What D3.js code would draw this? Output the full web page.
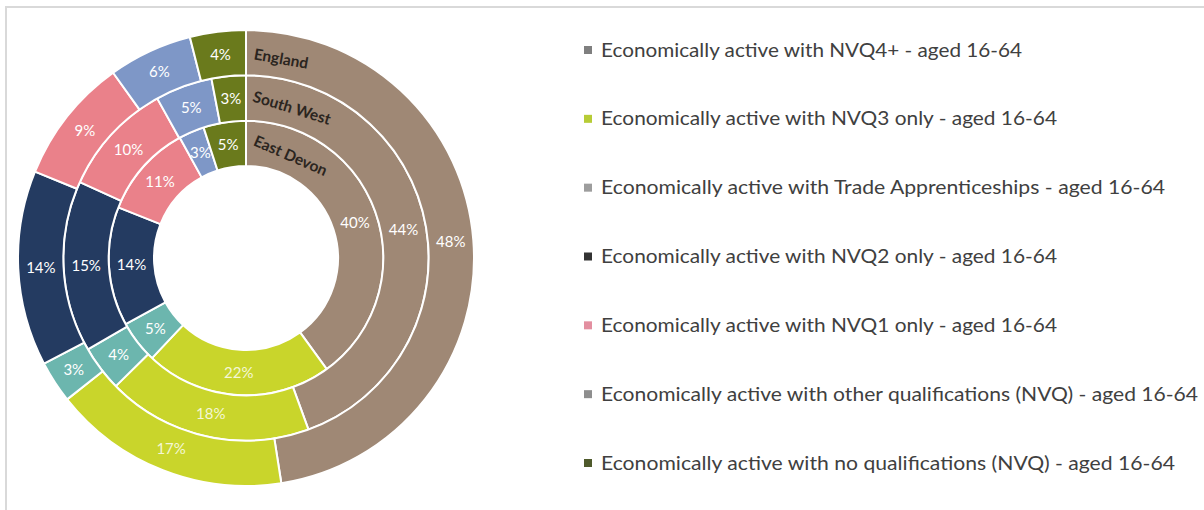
<!DOCTYPE html>
<html>
<head>
<meta charset="utf-8">
<script src="https://cdn.jsdelivr.net/npm/d3@7"></script>
<style>
  html, body { margin: 0; padding: 0; background: #fff; }
  svg { display: block; }
</style>
</head>
<body>
<svg id="chart" width="1204" height="510"></svg>
<script>
// Qualification categories (economically active, aged 16-64)
const categories = [
  "Economically active with NVQ4+ - aged 16-64",
  "Economically active with NVQ3 only - aged 16-64",
  "Economically active with Trade Apprenticeships - aged 16-64",
  "Economically active with NVQ2 only - aged 16-64",
  "Economically active with NVQ1 only - aged 16-64",
  "Economically active with other qualifications (NVQ) - aged 16-64",
  "Economically active with no qualifications (NVQ) - aged 16-64"
];

// Areas, innermost ring first
const areas = ["East Devon", "South West", "England"];

// Percentage share per category, one array per area
const eastDevon = [40, 22, 5, 14, 11, 3, 5];
const southWest = [44, 18, 4, 15, 10, 5, 3];
const england   = [48, 17, 3, 14, 9, 6, 4];

const seriesValues = [eastDevon, southWest, england];

// Ring segment colours
const sliceColors = ["#9f8875", "#c9d52b", "#6cb6ae", "#243b61", "#ea818a", "#7e97c7", "#6a7a1c"];
// Legend marker colours
const legendColors = ["#7f7f7f", "#b7cc36", "#9d9d9d", "#333333", "#e38fa0", "#8e8e8e", "#4f5a2c"];

const svg = d3.select("#chart");

// Chart area frame
svg.append("rect")
  .attr("x", 6).attr("y", 7)
  .attr("width", 1300).attr("height", 600)
  .attr("fill", "#fff")
  .attr("stroke", "#d9d9d9")
  .attr("stroke-width", 2);

const cx = 246, cy = 258;
const rInner = 92, rOuter = 228;
const ringScale = d3.scaleLinear().domain([0, areas.length]).range([rInner, rOuter]);

const pie = d3.pie().sort(null).value(d => d);

const g = svg.append("g").attr("transform", `translate(${cx},${cy})`);

seriesValues.forEach((vals, ringIdx) => {
  const r0 = ringScale(ringIdx), r1 = ringScale(ringIdx + 1);
  const arc = d3.arc().innerRadius(r0).outerRadius(r1);
  const arcs = pie(vals);
  const ring = g.append("g").attr("class", "ring");

  ring.selectAll("path")
    .data(arcs)
    .join("path")
    .attr("d", arc)
    .attr("fill", (d, i) => sliceColors[i])
    .attr("stroke", "#fff")
    .attr("stroke-width", 2)
    .attr("stroke-linejoin", "round");

  ring.selectAll("text.val")
    .data(arcs)
    .join("text")
    .attr("class", "val")
    .attr("transform", d => `translate(${arc.centroid(d)})`)
    .attr("text-anchor", "middle")
    .attr("dy", "0.35em")
    .attr("font-family", "Lato, 'Open Sans', sans-serif")
    .attr("font-size", 15)
    .attr("fill", (d, i) => i === 1 ? "#f4f7d6" : "#ffffff")
    .text(d => d.data + "%");

  // Area name inside the first segment, near the top
  const rm = (r0 + r1) / 2 - 3;
  const angDeg = [23.5, 17, 10][ringIdx];
  const a = angDeg * Math.PI / 180;
  ring.append("text")
    .attr("transform", `translate(${rm * Math.sin(a)},${-rm * Math.cos(a)}) rotate(${angDeg})`)
    .attr("text-anchor", "middle")
    .attr("dy", "0.35em")
    .attr("font-family", "Lato, 'Open Sans', sans-serif")
    .attr("font-weight", "bold")
    .attr("font-size", 15.5)
    .attr("fill", "#2b2520")
    .text(areas[ringIdx]);
});

// Legend
const legendY = d3.scalePoint().domain(categories).range([50, 463]);
const legendWidths = [421, 456, 564, 456, 456, 597, 574];
const legend = svg.append("g");
categories.forEach((c, i) => {
  const y = legendY(c);
  legend.append("rect")
    .attr("x", 584).attr("y", y - 4)
    .attr("width", 8).attr("height", 8)
    .attr("fill", legendColors[i]);
  legend.append("text")
    .attr("x", 601).attr("y", y)
    .attr("dy", "0.35em")
    .attr("font-family", "Lato, 'Open Sans', sans-serif")
    .attr("font-size", 19)
    .attr("fill", "#404040")
    .attr("textLength", legendWidths[i])
    .attr("lengthAdjust", "spacingAndGlyphs")
    .text(c);
});
</script>
</body>
</html>
